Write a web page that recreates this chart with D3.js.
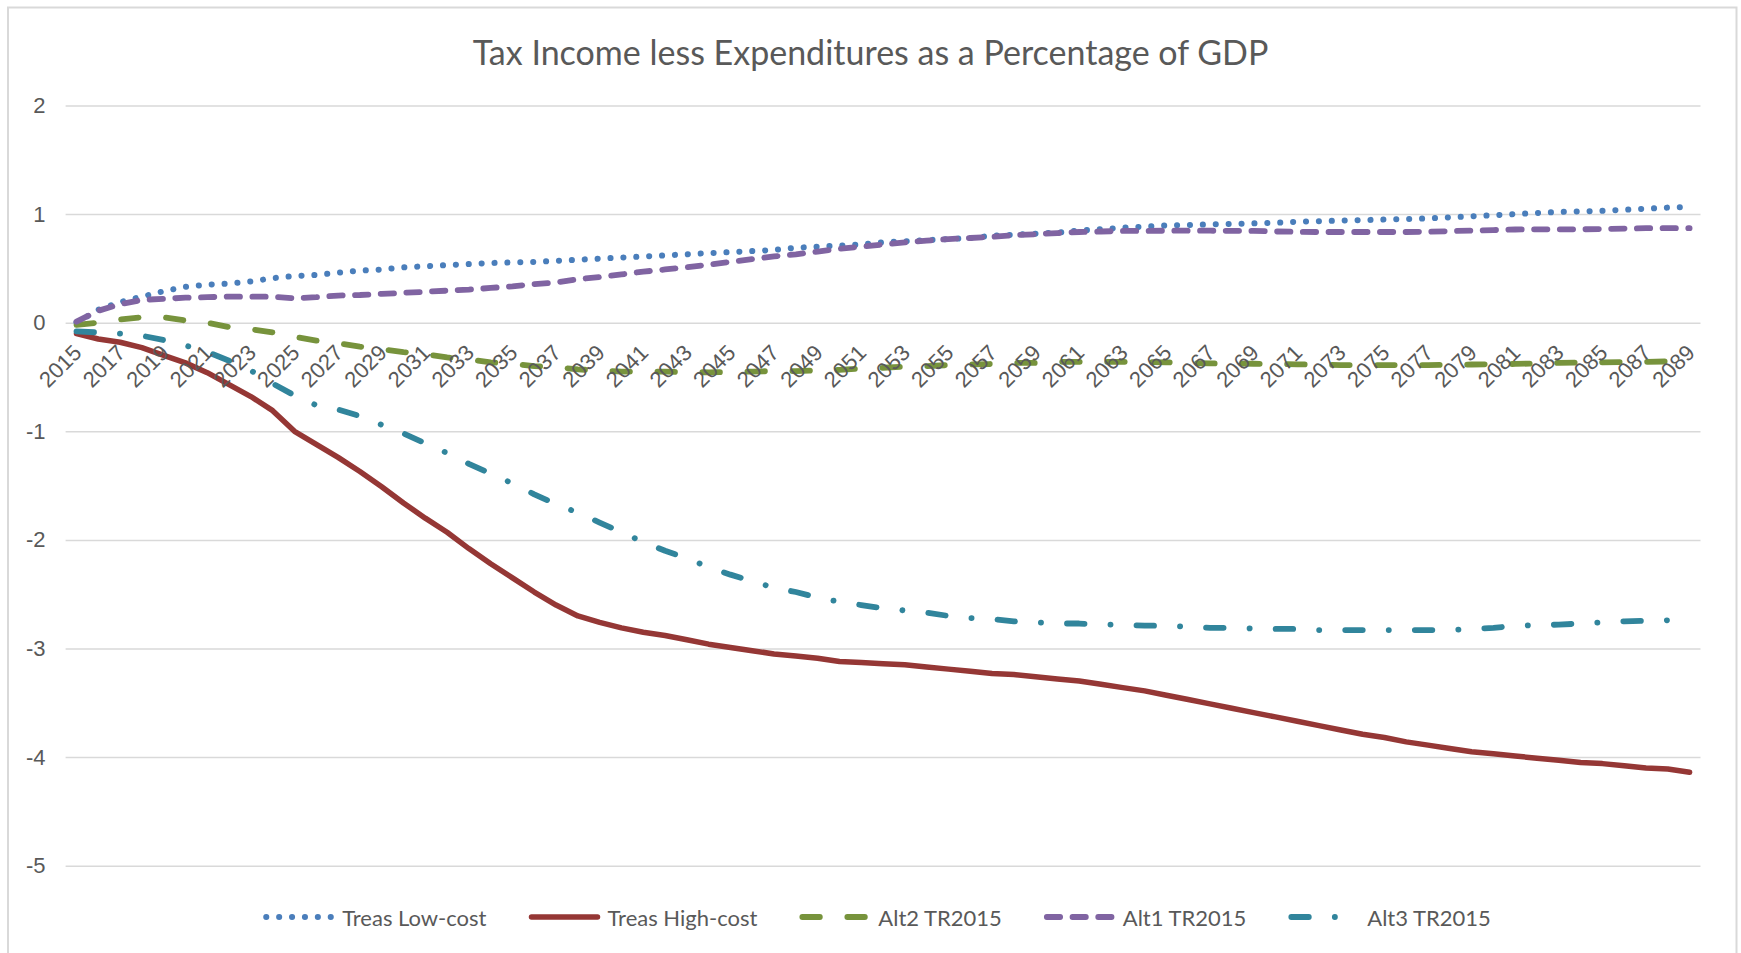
<!DOCTYPE html>
<html>
<head>
<meta charset="utf-8">
<script src="https://cdn.jsdelivr.net/npm/d3@7"></script>
<style>
  body { margin: 0; background: #fff; }
  svg { display: block; font-family: Lato, "Open Sans", sans-serif; }
</style>
</head>
<body>
<svg width="1741" height="953"></svg>
<script>
// categories
const years = [2015,2016,2017,2018,2019,2020,2021,2022,2023,2024,2025,2026,2027,2028,2029,
  2030,2031,2032,2033,2034,2035,2036,2037,2038,2039,2040,2041,2042,2043,2044,2045,2046,2047,
  2048,2049,2050,2051,2052,2053,2054,2055,2056,2057,2058,2059,2060,2061,2062,2063,2064,2065,
  2066,2067,2068,2069,2070,2071,2072,2073,2074,2075,2076,2077,2078,2079,2080,2081,2082,2083,
  2084,2085,2086,2087,2088,2089];

// series values
const lowCost = [0.00,0.12,0.19,0.24,0.29,0.33,0.35,0.36,0.38,0.41,0.43,0.44,0.46,0.48,0.49,
  0.51,0.52,0.53,0.54,0.55,0.555,0.56,0.57,0.58,0.59,0.60,0.61,0.62,0.63,0.64,0.65,0.66,0.67,
  0.69,0.70,0.71,0.72,0.74,0.75,0.76,0.77,0.78,0.80,0.81,0.82,0.83,0.85,0.86,0.875,0.885,0.895,
  0.90,0.905,0.91,0.915,0.92,0.93,0.935,0.94,0.945,0.95,0.955,0.96,0.97,0.98,0.99,1.00,1.01,1.02,
  1.025,1.03,1.04,1.05,1.06,1.065];

const highCost = [-0.10,-0.15,-0.18,-0.23,-0.30,-0.37,-0.46,-0.57,-0.68,-0.81,-1.00,-1.12,-1.24,
  -1.37,-1.51,-1.66,-1.80,-1.93,-2.08,-2.22,-2.35,-2.48,-2.60,-2.70,-2.76,-2.81,-2.85,-2.88,-2.92,
  -2.96,-2.99,-3.02,-3.05,-3.07,-3.09,-3.12,-3.13,-3.14,-3.15,-3.17,-3.19,-3.21,-3.23,-3.24,-3.26,
  -3.28,-3.30,-3.33,-3.36,-3.39,-3.43,-3.47,-3.51,-3.55,-3.59,-3.63,-3.67,-3.71,-3.75,-3.79,-3.82,
  -3.86,-3.89,-3.92,-3.95,-3.97,-3.99,-4.01,-4.03,-4.05,-4.06,-4.08,-4.10,-4.11,-4.14];

const alt2 = [-0.02,0.00,0.03,0.05,0.05,0.02,0.00,-0.04,-0.06,-0.09,-0.13,-0.165,-0.19,-0.22,
  -0.245,-0.27,-0.29,-0.32,-0.34,-0.365,-0.38,-0.40,-0.41,-0.43,-0.44,-0.45,-0.45,-0.45,-0.455,
  -0.457,-0.455,-0.45,-0.445,-0.445,-0.44,-0.435,-0.42,-0.415,-0.405,-0.40,-0.39,-0.385,-0.38,
  -0.37,-0.37,-0.36,-0.36,-0.36,-0.36,-0.362,-0.365,-0.37,-0.375,-0.375,-0.378,-0.38,-0.383,
  -0.387,-0.39,-0.39,-0.39,-0.39,-0.39,-0.387,-0.385,-0.382,-0.38,-0.375,-0.37,-0.367,-0.365,
  -0.362,-0.36,-0.357,-0.353];

const alt1 = [0.01,0.11,0.17,0.21,0.22,0.23,0.235,0.24,0.24,0.24,0.225,0.235,0.25,0.255,0.265,
  0.275,0.285,0.295,0.305,0.32,0.335,0.355,0.37,0.40,0.42,0.445,0.47,0.49,0.51,0.535,0.56,0.585,
  0.61,0.63,0.655,0.68,0.70,0.72,0.74,0.755,0.77,0.78,0.79,0.805,0.815,0.825,0.835,0.84,0.845,
  0.845,0.847,0.847,0.847,0.846,0.845,0.84,0.837,0.835,0.835,0.835,0.835,0.835,0.838,0.843,0.848,
  0.853,0.858,0.86,0.86,0.86,0.863,0.867,0.87,0.87,0.87];

const alt3 = [-0.08,-0.09,-0.10,-0.12,-0.16,-0.21,-0.27,-0.35,-0.44,-0.56,-0.67,-0.76,-0.80,
  -0.86,-0.94,-1.02,-1.11,-1.20,-1.30,-1.39,-1.48,-1.58,-1.67,-1.75,-1.84,-1.93,-2.02,-2.10,-2.17,
  -2.25,-2.32,-2.38,-2.44,-2.48,-2.53,-2.57,-2.60,-2.63,-2.65,-2.67,-2.70,-2.72,-2.73,-2.75,-2.76,
  -2.77,-2.77,-2.78,-2.78,-2.79,-2.79,-2.80,-2.81,-2.81,-2.815,-2.82,-2.82,-2.83,-2.83,-2.83,-2.83,
  -2.83,-2.83,-2.83,-2.82,-2.81,-2.79,-2.785,-2.78,-2.77,-2.76,-2.75,-2.745,-2.74,-2.73];

// tick labels
const yTicks = [2, 1, 0, -1, -2, -3, -4, -5];
const xTickYears = years.filter((d, i) => i % 2 === 0);

const seriesNames = ["Treas Low-cost", "Treas High-cost", "Alt2 TR2015", "Alt1 TR2015", "Alt3 TR2015"];
const seriesValues = [lowCost, highCost, alt2, alt1, alt3];
const seriesColors = ["#4a7ebb", "#953735", "#77933c", "#8064a2", "#31859c"];
const seriesDash = ["0.1 12.8", null, "17.5 27.5", "13.3 12.4", "17.5 26 0.1 26"];
const seriesWidth = [6, 5.5, 5.8, 5.8, 5.8];

const svg = d3.select("svg");
const width = +svg.attr("width");
const height = +svg.attr("height");
const textColor = "#595959";

// chart border (bottom edge falls off the picture)
svg.append("rect")
  .attr("x", 8).attr("y", 7.5)
  .attr("width", 1728.5).attr("height", height)
  .attr("fill", "none").attr("stroke", "#d9d9d9").attr("stroke-width", 2);

const x = d3.scaleBand().domain(years).range([65.6, 1700.5]);
const cx = d => x(d) + x.bandwidth() / 2;
const y = d3.scaleLinear().domain([-5, 2]).range([865.7, 105.5]);

// title
svg.append("text")
  .attr("x", width / 2).attr("y", 51)
  .attr("text-anchor", "middle").attr("dominant-baseline", "central")
  .attr("font-size", 34).attr("fill", textColor)
  .text("Tax Income less Expenditures as a Percentage of GDP");

// y axis + gridlines
const yAxis = svg.append("g")
  .attr("transform", "translate(65.6,0)")
  .call(d3.axisLeft(y).tickValues(yTicks).tickSize(-(1700.5 - 65.6)).tickPadding(20).tickFormat(d => String(d)));
yAxis.select(".domain").remove();
yAxis.selectAll(".tick line").attr("stroke", "#d9d9d9").attr("stroke-width", 1.5);
yAxis.selectAll(".tick text").attr("font-size", 22).attr("fill", textColor).attr("font-family", null);

// lines
const line = d3.line().x((d, i) => cx(years[i])).y(d => y(d));
const lines = svg.append("g").attr("class", "series");
seriesValues.forEach((vals, k) => {
  lines.append("path")
    .datum(vals)
    .attr("d", line)
    .attr("fill", "none")
    .attr("stroke", seriesColors[k])
    .attr("stroke-width", seriesWidth[k])
    .attr("stroke-linecap", "round")
    .attr("stroke-linejoin", "round")
    .attr("stroke-dasharray", seriesDash[k]);
});

// x axis labels sit at the 0 line, rotated
const xAxis = svg.append("g")
  .attr("transform", `translate(0,${y(0)})`)
  .call(d3.axisBottom(x).tickValues(xTickYears).tickSize(0).tickPadding(0));
xAxis.select(".domain").remove();
xAxis.selectAll(".tick text")
  .attr("y", 0).attr("dy", "0.35em")
  .attr("text-anchor", "end")
  .attr("transform", "translate(1,26) rotate(-45)")
  .attr("font-size", 22).attr("fill", textColor).attr("font-family", null);

// legend
const legend = svg.append("g").attr("transform", "translate(0,917)");
const sampleW = 72, sampleGap = 7, entryGap = 42;
const items = legend.selectAll("g").data(seriesNames).join("g");
items.append("line")
  .attr("x1", 3).attr("x2", sampleW - 3)
  .attr("stroke", (d, i) => seriesColors[i])
  .attr("stroke-width", (d, i) => seriesWidth[i])
  .attr("stroke-linecap", "round")
  .attr("stroke-dasharray", (d, i) => seriesDash[i]);
items.append("text")
  .attr("x", sampleW + sampleGap)
  .attr("dominant-baseline", "central")
  .attr("font-size", 22).attr("fill", textColor)
  .text(d => d);

let xpos = 0;
const offsets = [];
items.each(function() {
  offsets.push(xpos);
  xpos += sampleW + sampleGap + this.querySelector("text").getComputedTextLength() + entryGap;
});
const total = xpos - entryGap;
const startX = 877 - total / 2;
items.attr("transform", (d, i) => `translate(${startX + offsets[i]},0)`);
</script>
</body>
</html>
